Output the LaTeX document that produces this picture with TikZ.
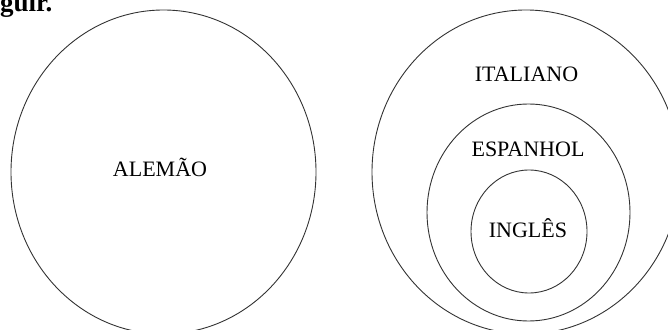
\documentclass[tikz,border=0pt]{standalone}
\usepackage{fontspec}
\setmainfont{Liberation Serif}
\usetikzlibrary{
    positioning,     % For relative node placement
    shapes.geometric % For the ellipse shape
}

\begin{document}
\begin{tikzpicture}[
    x=1pt, y=1pt,
    set/.style={ellipse, draw=black!80, line width=0.9pt, inner sep=0pt},
    setlabel/.style={font=\fontsize{22}{26}\selectfont, anchor=base},
    heading/.style={font=\fontsize{27}{32}\selectfont\bfseries, anchor=base west, inner sep=0pt}
]
    % Page frame
    \useasboundingbox (0, 0) rectangle (668, 329);
    \clip (0, 0) rectangle (668, 329);

    % Cut-off text from the page above
    \node[heading] (seguir) at (0, 317) {guir.};

    % Left set
    \node[set, minimum width=305pt, minimum height=324pt] (alemao) at (163.5, 157) {};
    \node[setlabel] (alemao_lbl) at (160, 152) {ALEMÃO};

    % Right sets, one inside the other
    \node[set, minimum width=308pt, minimum height=324pt] (italiano) at (526, 157) {};
    \node[set, minimum width=203pt, minimum height=217pt] (espanhol) at (528.5, 116.5) {};
    \node[set, minimum width=116pt, minimum height=123pt] (ingles) at (529, 97.5) {};

    \node[setlabel] (italiano_lbl) at (526.5, 247) {ITALIANO};
    \node[setlabel] (espanhol_lbl) at (528, 172) {ESPANHOL};
    \node[setlabel] (ingles_lbl) at (528, 91) {INGLÊS};

\end{tikzpicture}
\end{document}
